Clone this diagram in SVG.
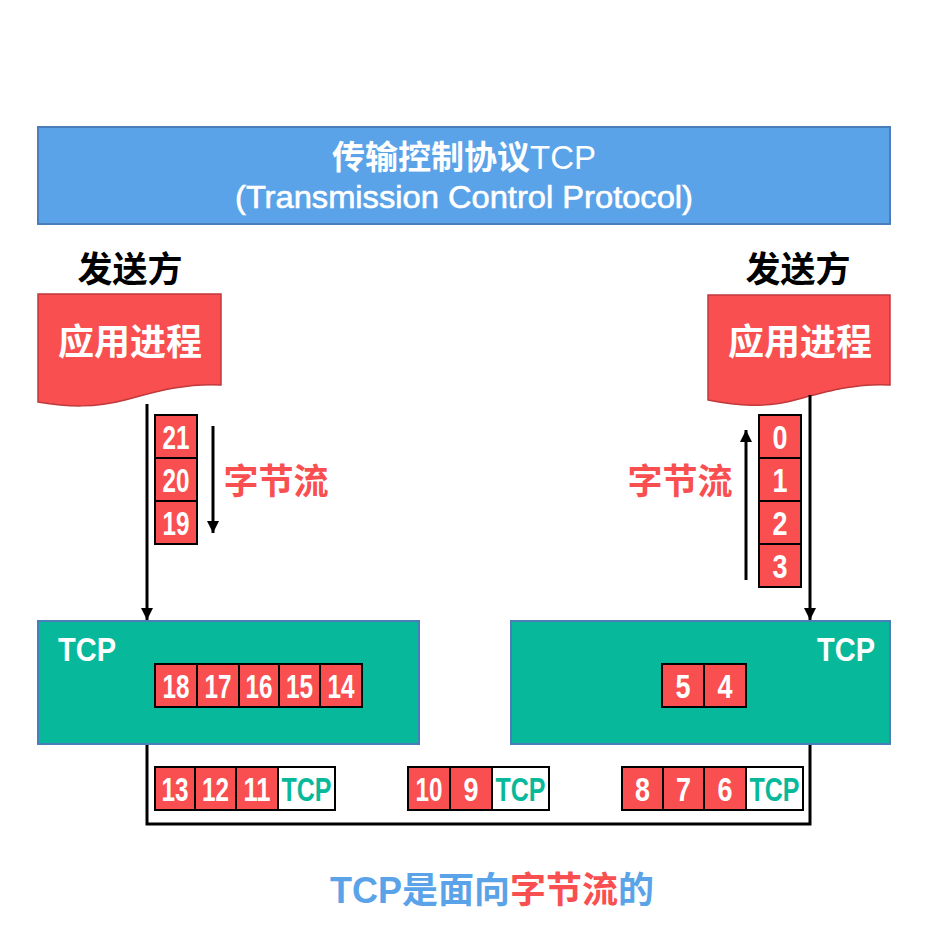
<svg xmlns="http://www.w3.org/2000/svg" width="930" height="944" viewBox="0 0 930 944">
<style>
.cjk{font-family:"Liberation Sans","Noto Sans CJK SC",sans-serif;font-weight:bold}
.num{font-family:"Liberation Sans","Noto Sans CJK SC",sans-serif;font-weight:bold;font-size:34px;fill:#fff;text-anchor:middle}
.cell{fill:#F94F50;stroke:#000;stroke-width:2}
.tcpcell{fill:#fff;stroke:#000;stroke-width:2}
.tcptxt{font-family:"Liberation Sans",sans-serif;font-weight:bold;font-size:33px;fill:#07B99A;text-anchor:middle}
.line{stroke:#000;stroke-width:3;fill:none}
.doc{fill:#F94F50;stroke:#C0393B;stroke-width:1.5}
.tcpbox{fill:#07B99A;stroke:#4A7EBB;stroke-width:2}
</style>
<defs>
<marker id="arr" viewBox="0 0 10 10" refX="10" refY="5" markerWidth="4" markerHeight="4" orient="auto" markerUnits="strokeWidth">
<path d="M0,0 L10,5 L0,10 Z" fill="#000"/>
</marker>
</defs>
<rect width="930" height="944" fill="#fff"/>

<g id="title">
<rect x="38" y="127" width="852" height="97" fill="#5BA3E8" stroke="#4A7EBB" stroke-width="2"/>
<text x="464" y="169" class="cjk" font-size="33" fill="#fff" text-anchor="middle">传输控制协议<tspan font-weight="normal">TCP</tspan></text>
<text x="235" y="208" font-family="Liberation Sans,sans-serif" font-size="31" fill="#fff" stroke="#fff" stroke-width="0.6" textLength="458" lengthAdjust="spacingAndGlyphs">(Transmission Control Protocol)</text>
</g>

<g id="sender-label-left">
<text x="130" y="282" class="cjk" font-size="35" fill="#000" text-anchor="middle">发送方</text>
</g>
<g id="sender-label-right">
<text x="798" y="282" class="cjk" font-size="35" fill="#000" text-anchor="middle">发送方</text>
</g>

<g id="app-left">
<path class="doc" d="M38,294 H221 V385 C185,383 155,392 125,400 C95,408 68,407 38,402 Z"/>
<text x="130" y="355" class="cjk" font-size="36" fill="#fff" text-anchor="middle">应用进程</text>
</g>
<g id="app-right">
<path class="doc" d="M708,295 H890 V385 C855,383 825,392 795,400 C765,408 738,406 708,400 Z"/>
<text x="800" y="355" class="cjk" font-size="36" fill="#fff" text-anchor="middle">应用进程</text>
</g>

<g id="connectors">
<line class="line" x1="147" y1="404" x2="147" y2="620" marker-end="url(#arr)"/>
<line class="line" x1="810" y1="395" x2="810" y2="620" marker-end="url(#arr)"/>
<line class="line" x1="213" y1="426" x2="213" y2="533" marker-end="url(#arr)"/>
<line class="line" x1="746" y1="580" x2="746" y2="430" marker-end="url(#arr)"/>
<polyline class="line" points="147,744 147,824 810,824 810,744"/>
</g>

<g id="bytes-left">
<rect class="cell" x="155" y="415" width="42" height="43"/>
<rect class="cell" x="155" y="458" width="42" height="43"/>
<rect class="cell" x="155" y="501" width="42" height="43"/>
<text class="num" x="176" y="449" textLength="27" lengthAdjust="spacingAndGlyphs">21</text>
<text class="num" x="176" y="492" textLength="27" lengthAdjust="spacingAndGlyphs">20</text>
<text class="num" x="176" y="535" textLength="27" lengthAdjust="spacingAndGlyphs">19</text>
</g>
<g id="bytestream-left">
<text x="276" y="494" class="cjk" font-size="35" fill="#F94F50" text-anchor="middle">字节流</text>
</g>

<g id="bytes-right">
<rect class="cell" x="759" y="415" width="42" height="43"/>
<rect class="cell" x="759" y="458" width="42" height="43"/>
<rect class="cell" x="759" y="501" width="42" height="43"/>
<rect class="cell" x="759" y="544" width="42" height="43"/>
<text class="num" x="780" y="449" textLength="15" lengthAdjust="spacingAndGlyphs">0</text>
<text class="num" x="780" y="492" textLength="15" lengthAdjust="spacingAndGlyphs">1</text>
<text class="num" x="780" y="535" textLength="15" lengthAdjust="spacingAndGlyphs">2</text>
<text class="num" x="780" y="578" textLength="15" lengthAdjust="spacingAndGlyphs">3</text>
</g>
<g id="bytestream-right">
<text x="680" y="494" class="cjk" font-size="35" fill="#F94F50" text-anchor="middle">字节流</text>
</g>

<g id="tcp-left">
<rect class="tcpbox" x="38" y="621" width="381" height="123"/>
<text x="58" y="661" font-family="Liberation Sans,sans-serif" font-weight="bold" font-size="34" fill="#fff" textLength="58" lengthAdjust="spacingAndGlyphs">TCP</text>
<rect class="cell" x="155" y="664" width="42" height="43"/>
<rect class="cell" x="197" y="664" width="42" height="43"/>
<rect class="cell" x="239" y="664" width="40" height="43"/>
<rect class="cell" x="279" y="664" width="41" height="43"/>
<rect class="cell" x="320" y="664" width="42" height="43"/>
<text class="num" x="176" y="698" textLength="27" lengthAdjust="spacingAndGlyphs">18</text>
<text class="num" x="218" y="698" textLength="27" lengthAdjust="spacingAndGlyphs">17</text>
<text class="num" x="259" y="698" textLength="27" lengthAdjust="spacingAndGlyphs">16</text>
<text class="num" x="299.5" y="698" textLength="27" lengthAdjust="spacingAndGlyphs">15</text>
<text class="num" x="341" y="698" textLength="27" lengthAdjust="spacingAndGlyphs">14</text>
</g>

<g id="tcp-right">
<rect class="tcpbox" x="511" y="621" width="379" height="123"/>
<text x="817" y="661" font-family="Liberation Sans,sans-serif" font-weight="bold" font-size="34" fill="#fff" textLength="58" lengthAdjust="spacingAndGlyphs">TCP</text>
<rect class="cell" x="662" y="664" width="42" height="43"/>
<rect class="cell" x="704" y="664" width="42" height="43"/>
<text class="num" x="683" y="698" textLength="15" lengthAdjust="spacingAndGlyphs">5</text>
<text class="num" x="725" y="698" textLength="15" lengthAdjust="spacingAndGlyphs">4</text>
</g>

<g id="segment-1">
<rect class="cell" x="155" y="767" width="40" height="43"/>
<rect class="cell" x="195" y="767" width="41" height="43"/>
<rect class="cell" x="236" y="767" width="42" height="43"/>
<rect class="tcpcell" x="278" y="767" width="57" height="43"/>
<text class="num" x="175" y="801" textLength="27" lengthAdjust="spacingAndGlyphs">13</text>
<text class="num" x="215.5" y="801" textLength="27" lengthAdjust="spacingAndGlyphs">12</text>
<text class="num" x="257" y="801" textLength="27" lengthAdjust="spacingAndGlyphs">11</text>
<text class="tcptxt" x="306.5" y="801" textLength="50" lengthAdjust="spacingAndGlyphs">TCP</text>
</g>

<g id="segment-2">
<rect class="cell" x="408" y="767" width="42" height="43"/>
<rect class="cell" x="450" y="767" width="42" height="43"/>
<rect class="tcpcell" x="492" y="767" width="57" height="43"/>
<text class="num" x="429" y="801" textLength="27" lengthAdjust="spacingAndGlyphs">10</text>
<text class="num" x="471" y="801" textLength="15" lengthAdjust="spacingAndGlyphs">9</text>
<text class="tcptxt" x="520.5" y="801" textLength="50" lengthAdjust="spacingAndGlyphs">TCP</text>
</g>

<g id="segment-3">
<rect class="cell" x="622" y="767" width="41" height="43"/>
<rect class="cell" x="663" y="767" width="41" height="43"/>
<rect class="cell" x="704" y="767" width="42" height="43"/>
<rect class="tcpcell" x="746" y="767" width="57" height="43"/>
<text class="num" x="642.5" y="801" textLength="15" lengthAdjust="spacingAndGlyphs">8</text>
<text class="num" x="683.5" y="801" textLength="15" lengthAdjust="spacingAndGlyphs">7</text>
<text class="num" x="725" y="801" textLength="15" lengthAdjust="spacingAndGlyphs">6</text>
<text class="tcptxt" x="774.5" y="801" textLength="50" lengthAdjust="spacingAndGlyphs">TCP</text>
</g>

<g id="caption">
<text x="492" y="903" class="cjk" font-size="36" fill="#5BA3E8" text-anchor="middle">TCP是面向<tspan fill="#F94F50">字节流</tspan>的</text>
</g>
</svg>
